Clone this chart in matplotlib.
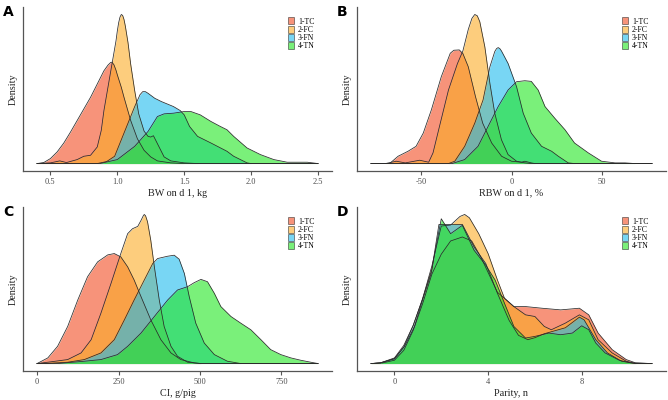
import matplotlib
matplotlib.use("Agg")
import matplotlib.pyplot as plt
from matplotlib.patches import Patch

# groups and colours
groups = ["1-TC", "2-FC", "3-FN", "4-TN"]
base_colors = ["#F34C22", "#FCAC26", "#1EBCEE", "#21E621"]

# densities (arbitrary units, shared within a panel)
# ---- A: BW on d 1, kg
a_tc_x = [0.40, 0.45, 0.50, 0.55, 0.60, 0.65, 0.70, 0.75, 0.80, 0.85, 0.90, 0.93, 0.95, 0.96, 0.975, 0.99, 1.00, 1.03, 1.05, 1.10, 1.15, 1.20, 1.25, 1.30, 1.40, 1.50, 2.50]
a_tc_y = [0, 3, 15, 35, 62, 95, 130, 165, 200, 240, 280, 297, 305, 306, 298, 282, 268, 230, 200, 130, 75, 40, 20, 8, 2, 0, 0]
a_fc_x = [0.40, 0.50, 0.57, 0.62, 0.70, 0.75, 0.80, 0.85, 0.88, 0.90, 0.93, 0.96, 0.99, 1.00, 1.01, 1.02, 1.03, 1.04, 1.05, 1.06, 1.08, 1.10, 1.13, 1.16, 1.20, 1.23, 1.25, 1.27, 1.30, 1.35, 1.40, 1.50, 1.60, 2.50]
a_fc_y = [0, 2, 8, 3, 12, 22, 25, 50, 100, 160, 230, 300, 370, 400, 425, 442, 450, 447, 435, 415, 365, 300, 220, 150, 98, 82, 80, 84, 60, 20, 8, 2, 0, 0]
a_fn_x = [0.40, 0.85, 0.92, 0.98, 1.05, 1.13, 1.17, 1.19, 1.21, 1.23, 1.28, 1.33, 1.42, 1.47, 1.50, 1.54, 1.60, 1.70, 1.82, 1.87, 1.97, 2.00, 2.50]
a_fn_y = [0, 0, 6, 22, 92, 172, 208, 217, 217, 212, 197, 187, 172, 160, 147, 112, 82, 62, 37, 22, 2, 0, 0]
a_tn_x = [0.40, 0.87, 1.00, 1.13, 1.23, 1.30, 1.35, 1.42, 1.50, 1.55, 1.62, 1.70, 1.77, 1.82, 1.87, 1.97, 2.07, 2.17, 2.27, 2.42, 2.50]
a_tn_y = [0, 0, 12, 52, 97, 142, 150, 152, 157, 157, 147, 127, 112, 102, 82, 47, 27, 12, 4, 4, 0]

# ---- B: RBW on d 1, %
b_tc_x = [-78, -67.7, -63, -57.5, -53, -49, -44.5, -39, -34, -32, -29, -27, -24, -20, -16, -11, -5.5, 0, 5.5, 7.4, 11, 13, 78]
b_tc_y = [0, 0, 22, 37, 52, 92, 162, 262, 333, 342, 343, 332, 292, 202, 122, 62, 22, 7, 4, 7, 2, 0, 0]
b_fc_x = [-78, -70, -64, -59, -51, -46, -43.6, -40, -35, -30, -27, -24, -22, -20.4, -19, -17.6, -14.8, -12, -9.3, -5.6, -1.9, 2.8, 7.4, 11, 78]
b_fc_y = [0, 0, 7, 2, 10, 4, 32, 112, 222, 302, 340, 405, 438, 450, 446, 428, 352, 242, 152, 72, 27, 7, 2, 0, 0]
b_fn_x = [-78, -35, -31.5, -26, -20.4, -15.8, -12, -9.3, -8.3, -7.4, -6.5, -5.6, -1.9, 2.8, 6.5, 11, 16.7, 22.3, 26, 31.5, 35, 78]
b_fn_y = [0, 0, 7, 52, 122, 192, 292, 338, 347, 350, 347, 340, 302, 232, 152, 92, 52, 37, 22, 2, 0, 0]
b_tn_x = [-78, -33, -26, -18.6, -13, -7.4, -1.9, 2.8, 7.4, 11, 14.8, 18.6, 24, 29.7, 35, 42.7, 50, 57.5, 63, 68.6, 78]
b_tn_y = [0, 0, 12, 52, 112, 172, 222, 247, 250, 248, 222, 172, 137, 102, 62, 32, 7, 2, 2, 0, 0]

# ---- C: CI, g/pig
c_tc_x = [0, 33, 63, 94, 125, 155, 186, 217, 237, 257, 278, 298, 319, 349, 380, 411, 441, 482, 503, 862]
c_tc_y = [0, 17, 52, 112, 192, 262, 307, 328, 332, 322, 292, 252, 202, 132, 72, 32, 12, 2, 0, 0]
c_fc_x = [0, 33, 94, 135, 166, 196, 227, 257, 278, 293, 309, 319, 326, 329, 333, 339, 349, 360, 375, 390, 411, 431, 462, 503, 862]
c_fc_y = [0, 4, 12, 32, 72, 152, 242, 332, 392, 407, 414, 432, 446, 450, 446, 428, 372, 292, 192, 112, 52, 22, 4, 0, 0]
c_fn_x = [0, 22, 94, 145, 196, 237, 268, 298, 329, 355, 370, 401, 421, 436, 452, 467, 487, 513, 544, 584, 625, 862]
c_fn_y = [0, 0, 4, 12, 32, 72, 132, 192, 252, 302, 317, 324, 327, 315, 272, 202, 122, 62, 27, 7, 0, 0]
c_tn_x = [0, 63, 145, 196, 247, 278, 319, 360, 401, 431, 462, 482, 503, 523, 544, 564, 595, 625, 656, 687, 717, 748, 779, 809, 840, 862]
c_tn_y = [0, 0, 7, 12, 27, 52, 92, 142, 192, 222, 232, 244, 254, 247, 212, 172, 142, 122, 102, 72, 42, 27, 17, 10, 4, 0]

# ---- D: Parity, n
d_tc_x = [-1, -0.5, 0, 0.4, 0.8, 1.2, 1.6, 2.0, 2.4, 2.9, 3.3, 3.7, 4.1, 4.4, 4.7, 5.1, 5.6, 6.3, 7.1, 7.9, 8.3, 8.7, 9.3, 9.9, 10.3, 11]
d_tc_y = [0, 2, 10, 40, 100, 180, 270, 330, 370, 382, 370, 320, 260, 215, 197, 172, 172, 167, 162, 167, 147, 92, 42, 12, 2, 0]
d_fc_x = [-1, -0.6, 0, 0.4, 0.8, 1.2, 1.6, 2.0, 2.4, 2.8, 3.0, 3.2, 3.6, 4.0, 4.4, 4.7, 5.1, 5.6, 6.0, 6.4, 6.7, 7.3, 7.9, 8.3, 8.7, 9.3, 9.9, 10.3, 11]
d_fc_y = [0, 2, 15, 50, 115, 195, 295, 415, 418, 444, 450, 440, 392, 332, 252, 197, 172, 147, 142, 112, 102, 122, 147, 132, 72, 32, 7, 0, 0]
d_fn_x = [-1, -0.6, 0, 0.4, 0.8, 1.2, 1.6, 1.9, 2.4, 2.9, 3.4, 3.9, 4.4, 4.9, 5.3, 5.7, 6.0, 6.4, 6.7, 7.3, 7.9, 8.1, 8.6, 9.1, 9.7, 10.3, 11]
d_fn_y = [0, 2, 17, 55, 115, 195, 285, 420, 420, 420, 352, 302, 212, 130, 85, 72, 78, 90, 96, 108, 140, 132, 72, 32, 7, 0, 0]
d_tn_x = [-1, -0.6, 0, 0.43, 0.86, 1.2, 1.57, 1.8, 2.0, 2.4, 2.9, 3.4, 3.9, 4.3, 4.7, 5.1, 5.6, 6.0, 6.6, 7.1, 7.6, 8.0, 8.3, 8.6, 9.0, 9.6, 10.1, 11]
d_tn_y = [0, 2, 14, 52, 112, 192, 272, 362, 437, 392, 417, 342, 297, 252, 182, 112, 77, 82, 92, 87, 92, 114, 102, 62, 32, 10, 2, 0]

panels = [
    ("A", "BW on d 1, kg", [(a_tc_x, a_tc_y), (a_fc_x, a_fc_y), (a_fn_x, a_fn_y), (a_tn_x, a_tn_y)],
     [0.5, 1.0, 1.5, 2.0, 2.5], ["0.5", "1.0", "1.5", "2.0", "2.5"], (0.4, 2.5)),
    ("B", "RBW on d 1, %", [(b_tc_x, b_tc_y), (b_fc_x, b_fc_y), (b_fn_x, b_fn_y), (b_tn_x, b_tn_y)],
     [-50, 0, 50], ["-50", "0", "50"], (-78, 78)),
    ("C", "CI, g/pig", [(c_tc_x, c_tc_y), (c_fc_x, c_fc_y), (c_fn_x, c_fn_y), (c_tn_x, c_tn_y)],
     [0, 250, 500, 750], ["0", "250", "500", "750"], (0, 862)),
    ("D", "Parity, n", [(d_tc_x, d_tc_y), (d_fc_x, d_fc_y), (d_fn_x, d_fn_y), (d_tn_x, d_tn_y)],
     [0, 4, 8], ["0", "4", "8"], (-1, 11)),
]

plt.rcParams["font.family"] = ["Liberation Serif", "DejaVu Serif"]

W, H = 668, 400
fig = plt.figure(figsize=(W / 100, H / 100), dpi=100)

# axes boxes in pixels: left, top, right, bottom
boxes = [(23, 7, 332, 171), (357, 7, 666, 171), (23, 207, 332, 371), (357, 207, 666, 371)]
axis_grey = "#555555"

for (letter, xlabel, curves, ticks, ticklabels, xr), (l, t, r, b) in zip(panels, boxes):
    ax = fig.add_axes([l / W, 1 - b / H, (r - l) / W, (b - t) / H])
    for (xs, ys), col in zip(curves, base_colors):
        ax.fill_between(xs, ys, 0, color=col, alpha=0.6, lw=0)
        ax.plot(xs, ys, color="#2a2a2a", lw=0.55, solid_joinstyle="round")
    span = xr[1] - xr[0]
    ax.set_xlim(xr[0] - 0.05 * span, xr[1] + 0.05 * span)
    ymax = max(max(ys) for _, ys in curves)
    ax.set_ylim(-0.05 * ymax, 1.05 * ymax)

    for side in ["top", "right"]:
        ax.spines[side].set_visible(False)
    for side in ["left", "bottom"]:
        ax.spines[side].set_color(axis_grey)
        ax.spines[side].set_linewidth(0.9)
    ax.set_yticks([])
    ax.set_xticks(ticks)
    ax.set_xticklabels(ticklabels)
    ax.tick_params(axis="x", length=3, width=0.8, color=axis_grey, labelcolor="#4d4d4d",
                   labelsize=6, pad=2)
    ax.set_xlabel(xlabel, fontsize=7.3, color="#222222", labelpad=2)
    ax.set_ylabel("Density", fontsize=7.3, color="#222222", labelpad=4)

    handles = [Patch(facecolor=c, alpha=0.6, edgecolor="#222222", linewidth=0.6) for c in base_colors]
    ax.legend(handles, groups, loc="upper left", bbox_to_anchor=(0.845, 0.96),
              frameon=False, fontsize=5.6, handlelength=0.8, handleheight=1.0,
              labelspacing=0.0, handletextpad=0.5, borderpad=0)

    fig.text((l - 20) / W, 1 - (t - 2) / H, letter, fontsize=10, fontweight="bold",
             family="DejaVu Sans", va="top", ha="left")

fig.savefig("out.png", dpi=100)
